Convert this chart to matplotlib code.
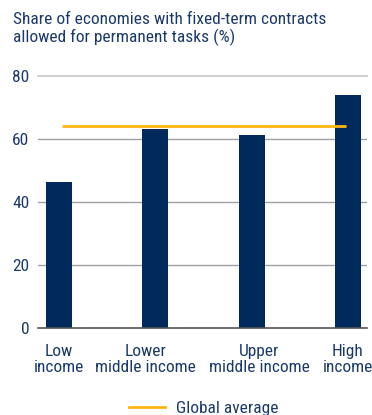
import matplotlib
matplotlib.use("Agg")
import matplotlib.pyplot as plt
from matplotlib.lines import Line2D

categories = ["Low\nincome", "Lower\nmiddle income", "Upper\nmiddle income", "High\nincome"]
values = [46.2, 63.1, 61.1, 73.8]
global_average = 64.0
yticks = [0, 20, 40, 60, 80]

NAVY = "#002a5c"
TEXT = "#1b3a6b"
ORANGE = "#fdb714"

plt.rcParams['font.family'] = ['Roboto Condensed', 'DejaVu Sans']

fig = plt.figure(figsize=(3.72, 4.15), dpi=100)
ax = fig.add_axes([0.101, 0.209, 0.886, 0.609])

x = list(range(len(categories)))
ax.bar(x, values, width=0.27, color=NAVY, zorder=3)
ax.plot([0.03, 2.98], [global_average, global_average], color=ORANGE, lw=2.0, zorder=4, solid_capstyle='butt')

ax.set_xlim(-0.22, 3.2)
ax.set_ylim(0, 80)
ax.set_yticks(yticks)
for t in yticks:
    if t == 0:
        ax.axhline(t, color="#555555", lw=1.2, zorder=5, clip_on=False)
    elif t == 80:
        ax.axhline(t, color="#c8c8c8", lw=1.2, zorder=1, clip_on=False)
    else:
        ax.axhline(t, color="#a0a0a0", lw=1.0, zorder=1)

for s in ax.spines.values():
    s.set_visible(False)

# label placement nudges (layout only): labels sit slightly apart from bar centres as in the original
label_nudge = [0.0, -0.1, 0.08, 0.0]
ax.set_xticks([xi + d for xi, d in zip(x, label_nudge)])
ax.set_xticklabels(categories, fontsize=12.5, color=TEXT, linespacing=1.15)
ax.tick_params(axis='both', length=0, labelsize=12.5, labelcolor=TEXT)
ax.tick_params(axis='y', pad=6)
ax.tick_params(axis='x', pad=11)

fig.text(0.035, 0.97, "Share of economies with fixed-term contracts\nallowed for permanent tasks (%)",
         ha='left', va='top', fontsize=12.5, color=TEXT, linespacing=1.1)

handle = Line2D([0], [0], color=ORANGE, lw=2.0)
fig.legend([handle], ["Global average"], loc='lower center', bbox_to_anchor=(0.547, -0.04),
           frameon=False, fontsize=12.5, labelcolor=TEXT, handlelength=2.1, handletextpad=0.6)

fig.savefig("out.png", dpi=100)
